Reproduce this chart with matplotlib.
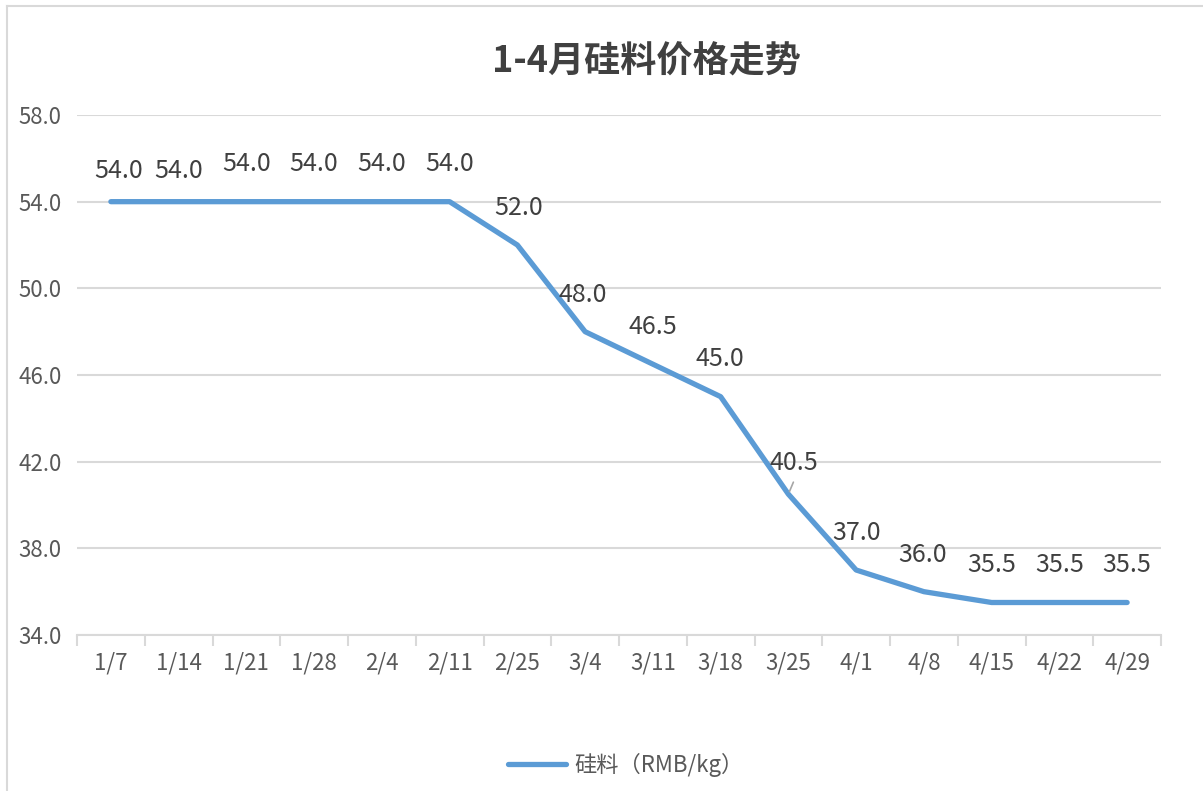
import matplotlib
matplotlib.use("Agg")
import matplotlib.pyplot as plt
from matplotlib.lines import Line2D
import numpy as np

plt.rcParams['font.family'] = ['Noto Sans CJK SC', 'DejaVu Sans']

# Weekly silicon material price, Jan–Apr
dates = ["1/7", "1/14", "1/21", "1/28", "2/4", "2/11", "2/25", "3/4",
         "3/11", "3/18", "3/25", "4/1", "4/8", "4/15", "4/22", "4/29"]
prices = [54.0, 54.0, 54.0, 54.0, 54.0, 54.0, 52.0, 48.0,
          46.5, 45.0, 40.5, 37.0, 36.0, 35.5, 35.5, 35.5]
series_name = "硅料（RMB/kg）"
title = "1-4月硅料价格走势"
y_ticks = [34.0, 38.0, 42.0, 46.0, 50.0, 54.0, 58.0]

# data-label offsets (pixels) relative to each point
label_dx = [8, 0, 0, 0, 0, 0, 1, -2, 0, -1, 6, 0, -1, 0, 0, 0]
label_dy = [31, 31, 38, 38, 38, 38, 37, 37, 37, 38, 31, 37, 37, 37, 37, 37]

W, H = 1203, 791
fig = plt.figure(figsize=(W / 100, H / 100), dpi=100)
fig.patch.set_facecolor("white")

# outer chart frame (left and top edges visible)
fig.add_artist(Line2D([7 / W, 7 / W], [0, 1 - 6 / H], transform=fig.transFigure,
                      color="#D9D9D9", lw=1.5))
fig.add_artist(Line2D([7 / W, 1], [1 - 6 / H, 1 - 6 / H], transform=fig.transFigure,
                      color="#D9D9D9", lw=1.5))

left, right, top, bottom = 77, 1161, 115, 635
ax = fig.add_axes([left / W, 1 - bottom / H, (right - left) / W, (bottom - top) / H])

x = np.arange(len(dates))
ax.plot(x, prices, color="#5B9BD5", lw=3.8, solid_capstyle="round",
        solid_joinstyle="round", zorder=3)

ax.set_xlim(-0.5, len(dates) - 0.5)
ax.set_ylim(y_ticks[0], y_ticks[-1])
ax.set_yticks(y_ticks)
ax.set_yticklabels([f"{v:.1f}" for v in y_ticks])
ax.set_xticks(x)
ax.set_xticklabels(dates)
ax.set_xticks(np.arange(-0.5, len(dates), 1.0), minor=True)

ax.tick_params(axis="y", length=0, pad=11, labelsize=16, labelcolor="#595959")
ax.tick_params(axis="x", which="major", length=0, pad=12, labelsize=16,
               labelcolor="#595959")
ax.tick_params(axis="x", which="minor", length=8, width=1.5, color="#D9D9D9")

ax.grid(axis="y", color="#D9D9D9", lw=1.5)
ax.set_axisbelow(True)
for s in ["left", "right", "top"]:
    ax.spines[s].set_visible(False)
ax.spines["bottom"].set_color("#D9D9D9")
ax.spines["bottom"].set_linewidth(1.5)

for xi, yi, dx, dy in zip(x, prices, label_dx, label_dy):
    ax.annotate(f"{yi:.1f}", (xi, yi), xytext=(dx, dy), textcoords="offset pixels",
                ha="center", va="center", fontsize=18, color="#404040", zorder=4)

# short leader line for the 3/25 label
i = dates.index("3/25")
ax.annotate("", (i, prices[i]), xytext=(5, 12), textcoords="offset pixels",
            xycoords="data",
            arrowprops=dict(arrowstyle="-", color="#A6A6A6", lw=1.2,
                            shrinkA=0, shrinkB=2))

fig.text(646 / W, 1 - 62 / H, title, ha="center", va="center",
         fontsize=26, fontweight="bold", color="#404040")

leg = fig.legend(handles=[Line2D([], [], color="#5B9BD5", lw=3.8,
                                 solid_capstyle="round")],
                 labels=[series_name], loc="center", bbox_to_anchor=(626 / W, 1 - 765 / H),
                 frameon=False, fontsize=16, handlelength=2.6, handletextpad=0.4)
for t in leg.get_texts():
    t.set_color("#595959")

fig.savefig("out.png", dpi=100)
